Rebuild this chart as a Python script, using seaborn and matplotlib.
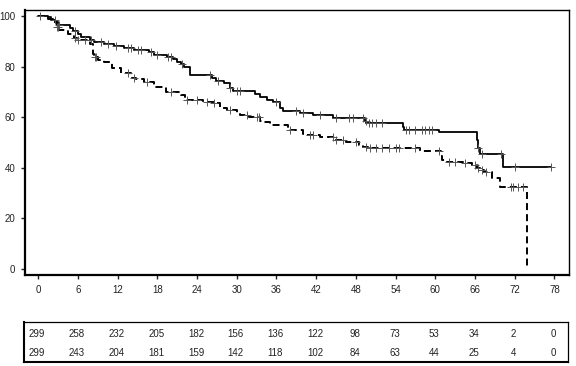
import numpy as np
import pandas as pd
import matplotlib
matplotlib.use("Agg")
import matplotlib.pyplot as plt
import seaborn as sns

# ---- data ----
solid_t = [0, 1.5, 2.0, 2.6, 3.0, 4.8, 5.3, 6.0, 6.5, 7.8, 8.5, 10.0, 11.5, 13.0, 14.5,
           16.8, 17.5, 19.5, 20.3, 21.0, 21.5, 22.0, 23.0, 26.3, 26.8, 28.0, 29.0, 29.4,
           32.8, 33.5, 34.5, 35.5, 36.5, 37.0, 39.5, 41.5, 44.5, 49.3, 49.6, 55.1, 55.3,
           60.5, 66.3, 66.5, 66.8, 70.2, 77.5]
solid_s = [100, 99.5, 98.5, 97.5, 96.4, 95.3, 94.0, 92.8, 91.7, 90.5, 89.7, 88.8, 88.0, 87.2, 86.4,
           85.6, 84.8, 84.0, 83.0, 82.0, 81.0, 79.8, 76.7, 75.5, 74.5, 73.5, 71.5, 70.2,
           69.2, 68.0, 67.0, 66.0, 63.6, 62.5, 61.7, 60.9, 59.7, 58.5, 57.7, 56.0, 55.0,
           54.2, 51.0, 48.0, 45.5, 40.3, 40.3]
solid_cens = [0.3, 2.5, 3.2, 5.5, 8.0, 9.5, 10.5, 11.8, 13.5, 14.0, 15.0, 15.5, 17.0, 18.0,
              19.6, 20.0, 21.7, 26.0, 27.2, 29.0, 30.0, 30.5, 36.0, 39.0, 40.0, 42.5, 45.0,
              47.0, 47.5, 49.0, 49.5, 50.0, 50.5, 51.0, 52.0, 55.5, 56.0, 57.0, 58.0, 58.5,
              59.0, 59.5, 66.5, 67.0, 70.0, 72.0, 77.5]

dash_t = [0, 1.5, 2.2, 2.8, 3.2, 4.5, 5.4, 5.8, 7.8, 8.3, 8.5, 9.0, 10.0, 11.2, 12.5, 14.0,
          14.8, 16.0, 17.5, 19.3, 21.5, 22.2, 24.9, 26.5, 27.5, 28.5, 30.0, 30.5, 31.8, 33.5,
          34.0, 35.0, 37.8, 40.0, 40.5, 42.5, 45.0, 46.5, 48.5, 49.0, 49.8, 57.7, 60.8, 61.0,
          61.8, 64.2, 65.5, 66.3, 66.8, 67.3, 68.5, 69.8, 73.9]
dash_s = [100, 99.0, 97.5, 95.5, 94.5, 93.0, 91.5, 90.5, 89.0, 85.0, 83.8, 82.6, 81.8, 79.4, 77.5, 75.5,
          75.0, 74.0, 72.0, 70.0, 68.8, 67.0, 66.0, 65.6, 63.5, 62.8, 61.5, 60.9, 60.0, 58.5,
          58.0, 57.0, 55.0, 53.5, 53.0, 52.2, 51.0, 50.2, 49.0, 48.2, 47.8, 46.6, 44.5, 43.0,
          42.3, 41.9, 41.1, 40.0, 39.1, 38.3, 36.0, 32.4, 0.0]
dash_cens = [2.8, 3.0, 5.5, 6.0, 7.0, 8.6, 8.8, 13.5, 14.5, 16.5, 20.0, 22.5, 24.0, 25.5, 26.5,
             29.0, 31.5, 33.0, 33.4, 38.0, 41.0, 41.5, 44.5, 45.0, 46.0, 48.0, 49.5, 50.2, 51.0,
             52.0, 53.0, 54.0, 54.5, 57.0, 60.5, 62.0, 63.0, 64.5, 66.0, 66.5, 67.0, 67.6,
             71.5, 71.8, 72.5, 73.2]

x_ticks = [0, 6, 12, 18, 24, 30, 36, 42, 48, 54, 60, 66, 72, 78]
y_ticks = [0, 20, 40, 60, 80, 100]
risk_solid = [299, 258, 232, 205, 182, 156, 136, 122, 98, 73, 53, 34, 2, 0]
risk_dash = [299, 243, 204, 181, 159, 142, 118, 102, 84, 63, 44, 25, 4, 0]

# ---- plotting ----
sns.set_style("white")
plt.rcParams['font.family'] = ['Liberation Sans', 'DejaVu Sans']

fig = plt.figure(figsize=(5.76, 3.66), dpi=100)
ax = fig.add_axes([25/576, 1-275/366, (569-25)/576, (275-10)/366])

def cens_y(tt, ss, cens):
    tt = np.asarray(tt); ss = np.asarray(ss)
    idx = np.searchsorted(tt, cens, side='right') - 1
    return ss[np.clip(idx, 0, len(ss)-1)]

df_s = pd.DataFrame({"t": solid_t, "s": solid_s})
df_d = pd.DataFrame({"t": dash_t, "s": dash_s})

sns.lineplot(data=df_s, x="t", y="s", drawstyle="steps-post", color="black",
             linewidth=1.3, estimator=None, sort=False, ax=ax)
sns.lineplot(data=df_d, x="t", y="s", drawstyle="steps-post", color="black",
             linewidth=1.4, estimator=None, sort=False, ax=ax)
ax.lines[1].set_linestyle((0, (3.6, 2.1)))

cs = pd.DataFrame({"t": solid_cens, "s": cens_y(solid_t, solid_s, solid_cens)})
cd = pd.DataFrame({"t": dash_cens, "s": cens_y(dash_t, dash_s, dash_cens)})
for c in (cs, cd):
    sns.scatterplot(data=c, x="t", y="s", marker="+", s=32, color="#555555",
                    linewidth=0.7, ax=ax, zorder=3)

ax.set_xlim(-2, 80.2)
ax.set_ylim(-2.4, 102.4)
ax.set_xticks(x_ticks)
ax.set_yticks(y_ticks)
ax.set_xlabel("")
ax.set_ylabel("")
ax.tick_params(axis='both', which='both', direction='out', length=3, width=1,
               labelsize=7, colors='#222222', pad=4, bottom=True, left=True)
for side in ("left", "bottom"):
    ax.spines[side].set_linewidth(1.6)
    ax.spines[side].set_color("black")
for side in ("top", "right"):
    ax.spines[side].set_linewidth(1.0)
    ax.spines[side].set_color("black")

# ---- risk table ----
tax = fig.add_axes([24/576, 1-362/366, (568-24)/576, (362-322)/366])
tax.set_xlim(-2, 80.2)
tax.set_ylim(0, 1)
for x, a, b in zip(x_ticks, risk_solid, risk_dash):
    tax.text(x, 0.70, str(a), ha='center', va='center', fontsize=7, color='#222222')
    tax.text(x, 0.22, str(b), ha='center', va='center', fontsize=7, color='#222222')
tax.set_xticks([])
tax.set_yticks([])
for side in ("left", "bottom"):
    tax.spines[side].set_linewidth(1.5)
for side in ("top", "right"):
    tax.spines[side].set_linewidth(0.9)
for sp in tax.spines.values():
    sp.set_color("black")

fig.savefig("out.png", dpi=100)
